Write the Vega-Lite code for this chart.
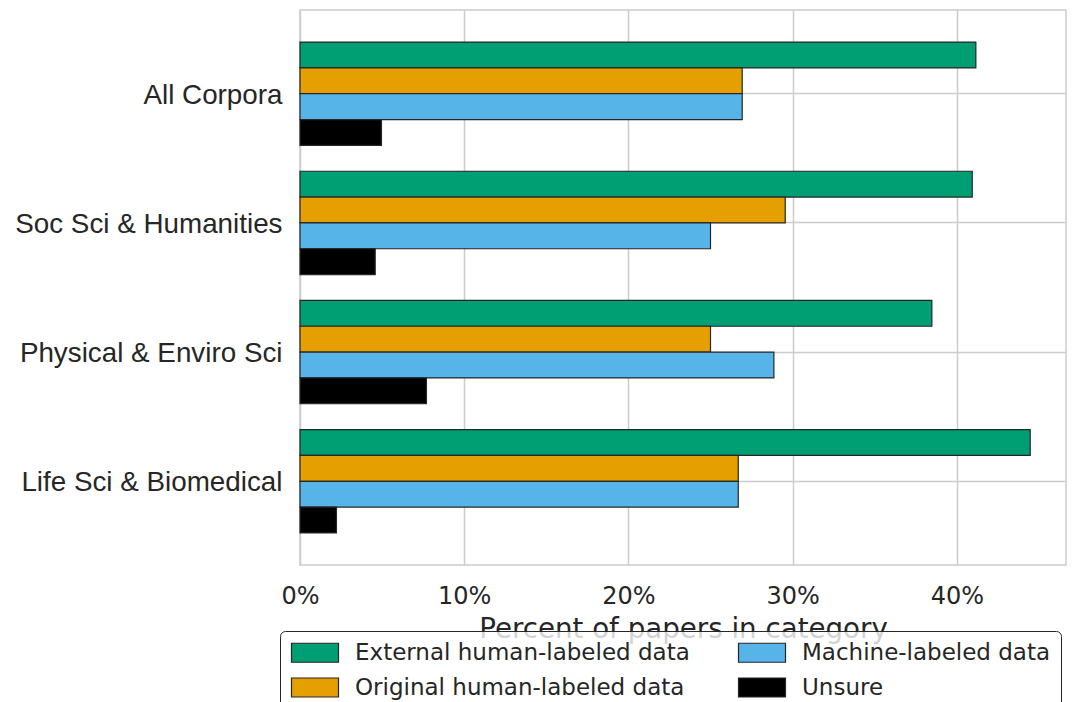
{
  "$schema": "https://vega.github.io/schema/vega-lite/v6.json",
  "width": 766,
  "height": 555,
  "autosize": {"type": "none"},
  "padding": {"left": 300, "top": 10, "right": 9, "bottom": 137},
  "background": "white",
  "config": {"view": {"stroke": "#cccccc", "strokeWidth": 1.5}, "font": "DejaVu Sans"},
  "data": {
    "values": [
      {"category": "All Corpora", "series": "External human-labeled data", "percent": 41.16},
      {"category": "All Corpora", "series": "Original human-labeled data", "percent": 26.93},
      {"category": "All Corpora", "series": "Machine-labeled data", "percent": 26.93},
      {"category": "All Corpora", "series": "Unsure", "percent": 4.96},
      {"category": "Soc Sci & Humanities", "series": "External human-labeled data", "percent": 40.94},
      {"category": "Soc Sci & Humanities", "series": "Original human-labeled data", "percent": 29.55},
      {"category": "Soc Sci & Humanities", "series": "Machine-labeled data", "percent": 25.0},
      {"category": "Soc Sci & Humanities", "series": "Unsure", "percent": 4.58},
      {"category": "Physical & Enviro Sci", "series": "External human-labeled data", "percent": 38.48},
      {"category": "Physical & Enviro Sci", "series": "Original human-labeled data", "percent": 25.0},
      {"category": "Physical & Enviro Sci", "series": "Machine-labeled data", "percent": 28.86},
      {"category": "Physical & Enviro Sci", "series": "Unsure", "percent": 7.7},
      {"category": "Life Sci & Biomedical", "series": "External human-labeled data", "percent": 44.47},
      {"category": "Life Sci & Biomedical", "series": "Original human-labeled data", "percent": 26.69},
      {"category": "Life Sci & Biomedical", "series": "Machine-labeled data", "percent": 26.69},
      {"category": "Life Sci & Biomedical", "series": "Unsure", "percent": 2.22}
    ]
  },
  "mark": {"type": "bar", "stroke": "#262626", "strokeWidth": 1.2, "opacity": 1},
  "encoding": {
    "y": {
      "field": "category",
      "type": "nominal",
      "sort": ["All Corpora", "Soc Sci & Humanities", "Physical & Enviro Sci", "Life Sci & Biomedical"],
      "scale": {"paddingInner": 0.2, "paddingOuter": 0.248},
      "axis": {
        "title": null,
        "grid": true,
        "gridColor": "#cccccc",
        "gridWidth": 1.5,
        "domain": false,
        "ticks": false,
        "labelFont": "Liberation Sans",
        "labelFontSize": 27.8,
        "labelColor": "#262626",
        "labelPadding": 18,
        "labelOffset": 2,
        "labelLimit": 400
      }
    },
    "yOffset": {
      "field": "series",
      "type": "nominal",
      "sort": ["External human-labeled data", "Original human-labeled data", "Machine-labeled data", "Unsure"],
      "scale": {"paddingInner": 0, "paddingOuter": 0}
    },
    "x": {
      "field": "percent",
      "type": "quantitative",
      "scale": {"domain": [0, 46.65], "nice": false, "zero": true},
      "axis": {
        "title": "Percent of papers in category",
        "values": [0, 10, 20, 30, 40],
        "labelExpr": "datum.value + '%'",
        "labelFlush": false,
        "grid": true,
        "gridColor": "#cccccc",
        "gridWidth": 1.5,
        "domain": false,
        "ticks": false,
        "labelFont": "DejaVu Sans",
        "labelFontSize": 24,
        "labelColor": "#262626",
        "labelPadding": 19,
        "titleFont": "DejaVu Sans",
        "titleFontSize": 27.7,
        "titleFontWeight": "normal",
        "titleColor": "#262626",
        "titlePadding": 7
      }
    },
    "color": {
      "field": "series",
      "type": "nominal",
      "scale": {
        "domain": ["External human-labeled data", "Original human-labeled data", "Machine-labeled data", "Unsure"],
        "range": ["#009E73", "#E69F00", "#56B4E9", "#000000"]
      },
      "legend": {
        "orient": "none",
        "legendX": -20,
        "legendY": 621,
        "columns": 2,
        "title": null,
        "symbolType": "M-1,-0.95H3.7V0.95H-1Z",
        "symbolSize": 400,
        "symbolStrokeColor": "#262626",
        "symbolStrokeWidth": 1.2,
        "symbolOpacity": 1,
        "labelFont": "DejaVu Sans",
        "labelFontSize": 23,
        "labelColor": "#262626",
        "labelOffset": 42,
        "labelLimit": 500,
        "columnPadding": 46,
        "rowPadding": 10,
        "padding": 10,
        "fillColor": "rgba(255,255,255,0.8)",
        "strokeColor": "#262626",
        "cornerRadius": 5
      }
    }
  }
}
